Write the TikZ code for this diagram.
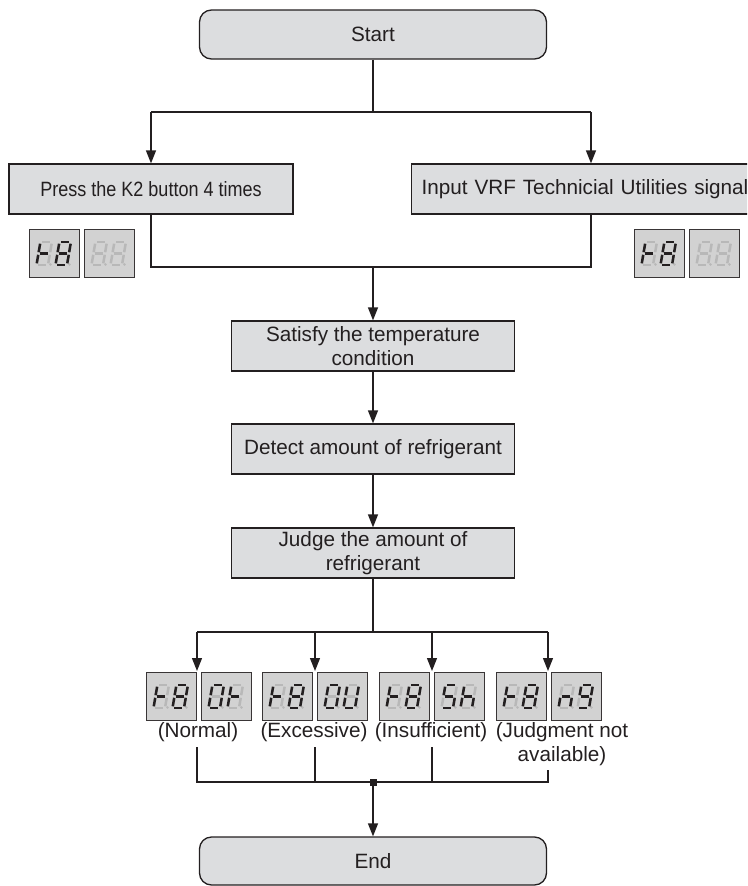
\documentclass[tikz,border=0pt]{standalone}
\usepackage{fontspec}
\setmainfont{Liberation Sans}
\usepackage{graphicx}
\usetikzlibrary{arrows.meta}
\definecolor{ink}{HTML}{231F20}
\definecolor{boxfill}{HTML}{DCDDDF}
\definecolor{dispfill}{HTML}{D2D2D2}
\definecolor{ghost}{HTML}{B8B8B8}
\newcommand\sg[4]{({#1+0.17*#2},{-#2}) -- ({#3+0.17*#4},{-#4})}
\newcommand\Sega{\sg{1.7}{23}{9.8}{23}}
\newcommand\Segb{\sg{11.5}{21.3}{11.5}{12.8}}
\newcommand\Segc{\sg{11.5}{10.2}{11.5}{1.7}}
\newcommand\Segd{\sg{1.7}{0}{9.8}{0}}
\newcommand\Sege{\sg{0}{1.7}{0}{10.2}}
\newcommand\Segf{\sg{0}{12.8}{0}{21.3}}
\newcommand\Segg{\sg{1.7}{11.5}{9.8}{11.5}}
\newcommand\Digit[3]{%
  \begin{scope}[shift={(#1,#2)}]
    \foreach \s in {a,b,c,d,e,f,g}{\draw[segoff] \csname Seg\s\endcsname;}
    \fill[ghost] (14,-0.5) circle[radius=1.3];
    \def\seglist{#3}%
    \ifx\seglist\empty\else
      \foreach \s in {#3}{\draw[segon] \csname Seg\s\endcsname;}
    \fi
  \end{scope}}
\newcommand\Disp[5]{%
  \node[disp, anchor=north west] (#1) at (#2,#3) {};
  \Digit{#2+7.5}{#3+36}{#4}%
  \Digit{#2+26.5}{#3+36}{#5}}
\begin{document}
\begin{tikzpicture}[x=1pt,y=-1pt,
  font=\fontsize{20.7}{23.8}\selectfont,
  ln/.style={draw=ink, line width=1.3pt},
  arr/.style={-{Triangle[length=13pt,width=10pt]}},
  box/.style={draw=ink, fill=boxfill, line width=1.3pt, minimum height=50pt,
    inner sep=0pt, text=ink, align=center},
  rbox/.style={box, rounded corners=12pt, minimum width=347pt, minimum height=49pt},
  disp/.style={draw=ink!90, fill=dispfill, line width=1.1pt, minimum width=50pt,
    minimum height=48pt, inner sep=0pt},
  segon/.style={draw=ink, line width=2.5pt, line cap=butt},
  segoff/.style={draw=ghost, line width=2.5pt, line cap=butt},
  lbl/.style={text=ink, inner sep=0pt, align=center, anchor=base},
  dot/.style={fill=ink, minimum size=7pt, inner sep=0pt}]
\useasboundingbox (0,0) rectangle (747,886);
\clip (0,0) rectangle (747,886);

% main boxes
\node[rbox] (start) at (373,34.5) {Start};
\node[box, minimum width=284pt] (k2) at (151,189) {\scalebox{0.87}[1]{Press the K2 button 4 times}};
\node[box, anchor=west, minimum width=390pt, text width=370pt, inner xsep=10pt, align=left] (vrf) at (411,189) {Input VRF Technicial Utilities signal};
\node[box, minimum width=283pt] (sat) at (373,346) {Satisfy the temperature\\condition};
\node[box, minimum width=283pt] (det) at (373,449) {Detect amount of refrigerant};
\node[box, minimum width=283pt] (jud) at (373,553) {Judge the amount of\\refrigerant};
\node[rbox, minimum height=48pt] (end) at (373,861) {End};

% coordinates
\coordinate (tj) at (373,112);
\coordinate (tl) at (151,112);
\coordinate (tr) at (591,112);
\coordinate (mj) at (373,267);
\coordinate (bj) at (373,632);
\coordinate (b1) at (197,632);
\coordinate (b2) at (315,632);
\coordinate (b3) at (432,632);
\coordinate (b4) at (548,632);
\coordinate (a1) at (197,671);
\coordinate (a2) at (315,671);
\coordinate (a3) at (432,671);
\coordinate (a4) at (548,671);
\coordinate (g1) at (197,747);
\coordinate (g2) at (315,747);
\coordinate (g3) at (432,747);
\coordinate (g4) at (548,770);
\coordinate (h1) at (197,782);
\coordinate (h2) at (315,782);
\coordinate (h3) at (432,782);
\coordinate (h4) at (548,782);

% upper connectors
\draw[ln] (start) -- (tj);
\draw[ln] (tl) -- (tr);
\draw[ln,arr] (tl) -- (k2);
\draw[ln,arr] (tr) -- (tr |- vrf.north);
\draw[ln] (k2.south) |- (mj);
\draw[ln] (tr |- vrf.south) |- (mj);
\draw[ln,arr] (mj) -- (sat);
\draw[ln,arr] (sat) -- (det);
\draw[ln,arr] (det) -- (jud);
\draw[ln] (jud) -- (bj);
\draw[ln] (b1) -- (b4);
\draw[ln,arr] (b1) -- (a1);
\draw[ln,arr] (b2) -- (a2);
\draw[ln,arr] (b3) -- (a3);
\draw[ln,arr] (b4) -- (a4);

% displays (top)
\Disp{dl1}{29}{229}{e,f,g}{a,b,c,d,e,f,g}
\Disp{dl2}{84}{229}{}{}
\Disp{dr1}{634}{229}{e,f,g}{a,b,c,d,e,f,g}
\Disp{dr2}{689}{229}{}{}

% displays (bottom)
\Disp{n1}{146}{672}{e,f,g}{a,b,c,d,e,f,g}
\Disp{n2}{201}{672}{a,b,c,d,e,f}{e,f,g}
\Disp{x1}{262}{672}{e,f,g}{a,b,c,d,e,f,g}
\Disp{x2}{317}{672}{a,b,c,d,e,f}{b,c,d,e,f}
\Disp{i1}{379}{672}{e,f,g}{a,b,c,d,e,f,g}
\Disp{i2}{434}{672}{a,c,d,f,g}{c,e,f,g}
\Disp{j1}{496}{672}{e,f,g}{a,b,c,d,e,f,g}
\Disp{j2}{551}{672}{c,e,g}{a,b,c,d,f,g}

% labels
\node[lbl] (ln1) at (198,737) {(Normal)};
\node[lbl] (ln2) at (314,737) {(Excessive)};
\node[lbl] (ln3) at (431,737) {(Insufficient)};
\node[lbl] (ln4) at (562,761) {(Judgment not\\available)};

% gathering
\draw[ln] (g1) -- (h1) -- (h4) -- (g4);
\draw[ln] (g2) -- (h2);
\draw[ln] (g3) -- (h3);
\node[dot] (sq) at (373,782) {};
\draw[ln,arr] (sq) -- (end);
\end{tikzpicture}
\end{document}
